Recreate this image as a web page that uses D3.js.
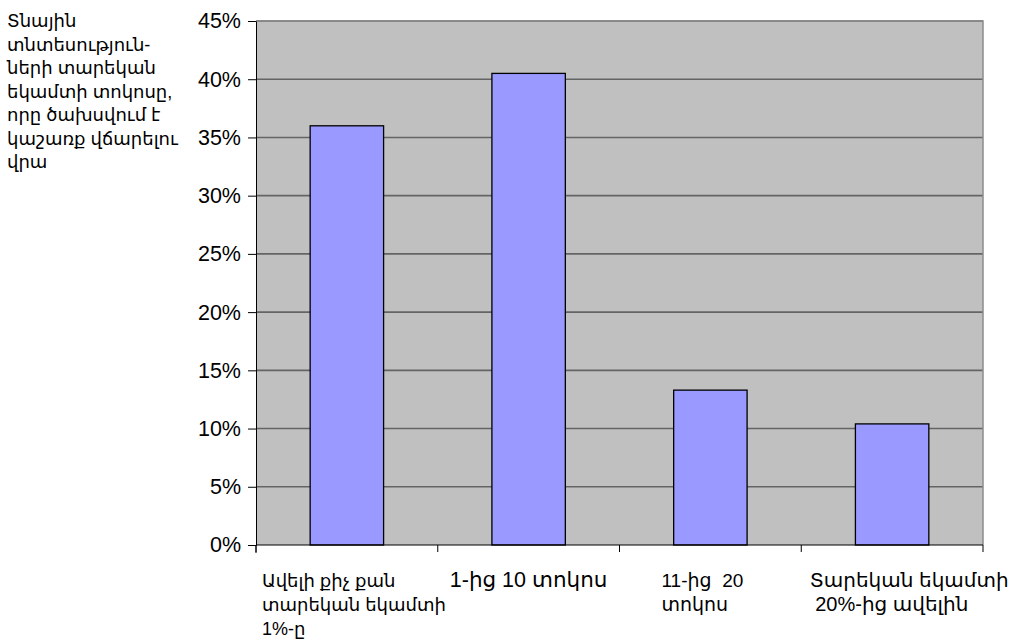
<!DOCTYPE html>
<html>
<head>
<meta charset="utf-8">
<script src="https://cdn.jsdelivr.net/npm/d3@7"></script>
<style>
  body { margin: 0; background: #fff; }
  text { font-family: "Liberation Sans", Arial, "DejaVu Sans", sans-serif; fill: #000; white-space: pre; }
</style>
</head>
<body>
<div id="chart-container"></div>
<script>
const titleLines = ["Տնային", "տնտեսություն-", "ների տարեկան", "եկամտի տոկոսը,", "որը ծախսվում է", "կաշառք վճարելու", "վրա"];
const categories = ["Ավելի քիչ քան տարեկան եկամտի 1%-ը", "1-ից 10 տոկոս", "11-ից  20 տոկոս", "Տարեկան եկամտի 20%-ից ավելին"];
const categoryLines = [
  ["Ավելի քիչ քան", "տարեկան եկամտի", "1%-ը"],
  ["1-ից 10 տոկոս"],
  ["11-ից  20", "տոկոս"],
  ["Տարեկան եկամտի", " 20%-ից ավելին"]
];
const values = [0.36, 0.405, 0.133, 0.104];
const yTicks = [0, 0.05, 0.10, 0.15, 0.20, 0.25, 0.30, 0.35, 0.40, 0.45];

const W = 1020, H = 641;
const margin = {top: 21, right: 37, bottom: 96, left: 256};
const width = W - margin.left - margin.right,
      height = H - margin.top - margin.bottom;

const svg = d3.select("#chart-container")
  .append("svg")
    .attr("width", W)
    .attr("height", H);

const g = svg.append("g")
    .attr("transform", "translate(" + margin.left + "," + margin.top + ")");

const x = d3.scaleBand()
  .domain(categories)
  .range([0, width])
  .paddingInner(0.596)
  .paddingOuter(0.298);

const y = d3.scaleLinear()
  .domain([0, 0.45])
  .range([height, 0]);

// plot area
g.append("rect")
  .attr("width", width)
  .attr("height", height)
  .attr("fill", "#c0c0c0");

// gridlines
g.selectAll(".grid")
  .data(yTicks.filter(d => d > 0))
  .enter().append("line")
    .attr("x1", 0)
    .attr("x2", width)
    .attr("y1", d => y(d))
    .attr("y2", d => y(d))
    .attr("stroke", "#646464")
    .attr("stroke-width", 1.6);

// plot border (top/right)
g.append("path")
  .attr("d", "M0," + y(0.45) + "H" + width + "V" + height)
  .attr("fill", "none")
  .attr("stroke", "#8c8c8c")
  .attr("stroke-width", 1.5);

// bars
g.selectAll(".bar")
  .data(values)
  .enter().append("rect")
    .attr("x", (d, i) => x(categories[i]))
    .attr("y", d => y(d))
    .attr("width", x.bandwidth())
    .attr("height", d => height - y(d))
    .attr("fill", "#9999ff")
    .attr("stroke", "#000")
    .attr("stroke-width", 1.3);

// y axis
const yAxis = g.append("g")
  .call(d3.axisLeft(y)
    .tickValues(yTicks)
    .tickFormat(d3.format(".0%"))
    .tickSize(8)
    .tickSizeOuter(0)
    .tickPadding(7));
yAxis.select(".domain").attr("stroke", "#000");
yAxis.selectAll(".tick line").attr("stroke", "#000");
yAxis.selectAll(".tick text")
  .style("font-size", "21.5px")
  .attr("fill", "#000");
yAxis.append("line")
  .attr("y1", height)
  .attr("y2", height + 8)
  .attr("stroke", "#000");

// x axis line and ticks at band boundaries
const boundaries = d3.range(categories.length + 1).map(i => i * width / categories.length);
g.append("line")
  .attr("x1", 0).attr("x2", width)
  .attr("y1", height).attr("y2", height)
  .attr("stroke", "#000");
g.selectAll(".xtick")
  .data(boundaries)
  .enter().append("line")
    .attr("x1", d => d).attr("x2", d => d)
    .attr("y1", height).attr("y2", height + 7)
    .attr("stroke", "#000");

// category labels (wrapped, left-aligned block near band centre)
const labelSizes = [18, 21.5, 19, 20];
const labelNudge = [7, 0, -8, 17];
categoryLines.forEach(function(lines, i) {
  const lab = g.append("text")
    .style("font-size", labelSizes[i] + "px");
  lines.forEach(function(t, j) {
    lab.append("tspan")
      .attr("x", 0)
      .attr("y", height + 42 + j * 24)
      .text(t);
  });
  const bw = lab.node().getBBox().width;
  const cx = x(categories[i]) + x.bandwidth() / 2 + labelNudge[i];
  lab.attr("transform", "translate(" + (cx - bw / 2) + ",0)");
});

// title block at top-left
const title = svg.append("text")
  .style("font-size", "18px");
titleLines.forEach(function(t, j) {
  title.append("tspan")
    .attr("x", 7)
    .attr("y", 27 + j * 23.5)
    .text(t);
});
</script>
</body>
</html>
